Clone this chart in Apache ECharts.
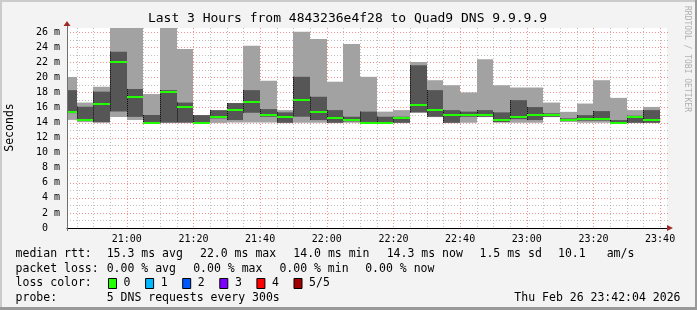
<!DOCTYPE html>
<html><head><meta charset="utf-8">
<script src="https://cdn.jsdelivr.net/npm/echarts@6/dist/echarts.min.js"></script>
<style>html,body{margin:0;padding:0;background:#f3f3f3}#c{width:697px;height:310px}</style>
</head><body><div id="c"></div>
<script>
// ---- data ----
const barStarts = ['20:40','20:45','20:50','20:55','21:00','21:05','21:10','21:15','21:20','21:25','21:30','21:35','21:40','21:45','21:50','21:55','22:00','22:05','22:10','22:15','22:20','22:25','22:30','22:35','22:40','22:45','22:50','22:55','23:00','23:05','23:10','23:15','23:20','23:25','23:30','23:35'];
const pingMin = [14.35,14.05,13.97,14.75,14.33,13.90,13.95,13.95,13.90,13.95, 14.00,14.00,14.00,13.93,13.97,13.97,13.93,13.97,13.90,13.90, 13.93,15.30,14.72,13.93,13.97,14.72,14.00,13.97,13.97,14.72, 14.10,13.97,13.97,13.90,13.93,13.93];
const ping2   = [15.25,14.20,14.05,15.45,14.75,13.95,14.00,14.00,13.95,14.55, 14.33,15.30,14.77,13.97,14.77,14.33,13.97,14.15,13.93,13.93, 13.97,15.35,14.77,13.97,14.77,14.77,14.05,14.45,14.33,14.77, 14.18,14.25,14.25,13.93,13.97,13.97];
const median  = [15.45,14.33,16.50,22.05,17.42,13.99,18.10,16.10,14.00,14.72, 15.65,16.75,14.98,14.72,16.97,15.45,14.63,14.33,13.97,13.99, 14.63,16.30,15.70,15.00,15.00,15.00,14.38,14.77,15.00,14.98, 14.30,14.50,14.47,13.97,14.75,14.38];
const ping4   = [18.30,16.10,18.10,23.40,18.45,15.00,18.30,16.65,14.98,15.63, 16.58,18.30,15.78,15.35,20.07,17.42,15.65,14.77,15.45,14.77, 14.77,21.60,18.30,15.65,15.45,15.65,15.35,16.97,16.05,15.22, 14.55,14.98,15.52,14.33,14.90,15.65];
const pingMax = [20.05,16.65,18.75,26.60,26.60,17.78,26.60,23.75,15.00,15.65, 16.60,24.20,19.55,15.65,26.05,25.10,19.42,24.42,20.07,15.45, 15.65,22.05,19.62,18.95,18.00,22.40,18.95,18.65,18.65,16.65, 15.42,16.52,19.62,17.27,15.65,16.07];
const xLabelTimes = ['21:00','21:20','21:40','22:00','22:20','22:40','23:00','23:20','23:40'];
const yTicks = [0,2,4,6,8,10,12,14,16,18,20,22,24,26];
const yMinor = [1,3,5,7,9,11,13,15,17,19,21,23,25];
const startTime = '20:42:04', endTime = '23:42:04';
const lossLabels = ['0','1','2','3','4','5/5'];
const lossColors = ['#22ff00','#00b8ff','#0059ff','#7e00ff','#ff0000','#a10000'];

// ---- helpers ----
const toSec = s => { const p = s.split(':').map(Number); return p[0]*3600 + p[1]*60 + (p[2]||0); };
const pad = n => String(n).padStart(2,'0');
const fmtT = v => pad(Math.floor(v/3600)) + ':' + pad(Math.floor((v%3600)/60));
const STEP = 300;
const xMin = toSec(startTime), xMax = toSec(endTime);
const majorX = xLabelTimes.map(toSec);
const minorX = barStarts.slice(1).map(toSec).concat([toSec('23:40')]).filter(v => majorX.indexOf(v) < 0);
const MONO = '"DejaVu Sans Mono", monospace';

const gridData = [];
minorX.forEach(v => gridData.push([0, v]));
yMinor.forEach(v => gridData.push([1, v]));
majorX.forEach(v => gridData.push([2, v]));
yTicks.filter(v => v > 0).forEach(v => gridData.push([3, v]));

const barData = barStarts.map((t,i) => [toSec(t), pingMin[i], ping2[i], median[i], ping4[i], pingMax[i], i]);

const chart = echarts.init(document.getElementById('c'), null, {renderer:'canvas'});

const legendTexts = [];
function T(text, x, y, extra) {
  legendTexts.push({type:'text', x:x, y:y, z:100, style:Object.assign({text:text, font:'11.5px ' + MONO, fill:'#000', textVerticalAlign:'middle'}, extra||{})});
}
const r1 = 254.5, r2 = 269, r3 = 283.5, r4 = 298;
T('median rtt:', 15.6, r1);
T('15.3 ms avg', 106.7, r1); T('22.0 ms max', 200, r1); T('14.0 ms min', 293.3, r1);
T('14.3 ms now', 386.7, r1); T('1.5 ms sd', 479.5, r1); T('10.1', 558, r1); T('am/s', 606.7, r1);
T('packet loss:', 15.6, r2);
T('0.00 % avg', 106.7, r2); T('0.00 % max', 193.2, r2); T('0.00 % min', 279.4, r2); T('0.00 % now', 365.2, r2);
T('loss color:', 15.6, r3);
lossLabels.forEach((l,i) => {
  const bx = 108 + i*37.1;
  legendTexts.push({type:'rect', z:100, shape:{x:bx+0.5, y:r3-5, width:8, height:10}, style:{fill:lossColors[i], stroke:'#000', lineWidth:1}});
  T(l, bx + 15.6, r3);
});
T('probe:', 15.6, r4);
T('5 DNS requests every 300s', 106.7, r4);
T('Thu Feb 26 23:42:04 2026', 680.5, r4, {textAlign:'right'});

const option = {
  backgroundColor:'#f3f3f3',
  animation:false,
  grid:{left:67, top:28, width:600, height:200, show:true, backgroundColor:'#ffffff', borderWidth:0, containLabel:false},
  xAxis:{type:'value', min:xMin, max:xMax,
    axisLine:{show:true, lineStyle:{color:'#000', width:1}},
    axisTick:{show:false}, splitLine:{show:false},
    axisLabel:{customValues: majorX, formatter: v => fmtT(v), fontFamily:MONO, fontSize:10, color:'#000', margin:6}},
  yAxis:{type:'value', min:0, max:26.55,
    axisLine:{show:true, lineStyle:{color:'#707070', width:1}},
    axisTick:{show:false}, splitLine:{show:false},
    axisLabel:{customValues: yTicks, formatter: v => v === 0 ? '0  ' : v + ' m', fontFamily:MONO, fontSize:10, color:'#000', margin:7}},
  series:[
    {type:'custom', z:1, silent:true, clip:false, data:gridData, encode:{x:1},
     renderItem(params, api){
       const kind = api.value(0), v = api.value(1);
       const cs = params.coordSys;
       const major = kind >= 2;
       const color = major ? 'rgba(240,110,110,0.75)' : 'rgba(150,150,150,0.6)';
       let shape;
       if (kind === 0 || kind === 2) {
         const x = Math.round(api.coord([v, 0])[0]) + 0.5;
         shape = {x1:x, y1:cs.y, x2:x, y2:cs.y + cs.height};
       } else {
         const y = Math.round(api.coord([xMin, v])[1]) + 0.5;
         shape = {x1:cs.x, y1:y, x2:cs.x + cs.width + 1, y2:y};
       }
       return {type:'line', shape:shape, style:{stroke:color, lineWidth:1, lineDash:[1,2]}};
     }},
    {type:'custom', z:2, silent:true, clip:true, data:barData, encode:{x:0, y:[1,5]},
     renderItem(params, api){
       const t = api.value(0);
       const x0 = Math.round(api.coord([t, 0])[0]);
       const x1 = Math.round(api.coord([t + STEP, 0])[0]);
       const yp = k => api.coord([t, api.value(k)])[1];
       const w = x1 - x0;
       const children = [
         {type:'rect', shape:{x:x0, y:yp(5), width:w, height:yp(1)-yp(5)}, style:{fill:'#a2a2a2'}},
         {type:'rect', shape:{x:x0, y:yp(4), width:w, height:yp(2)-yp(4)}, style:{fill:'#565656'}}
       ];
       if (api.value(6) > 0) {
         children.push({type:'line', shape:{x1:x0+0.5, y1:yp(4), x2:x0+0.5, y2:yp(2)}, style:{stroke:'rgba(0,0,0,0.85)', lineWidth:1, lineDash:[1,1]}});
       }
       children.push({type:'rect', shape:{x:x0, y:Math.round(yp(3))-1, width:w, height:2}, style:{fill:lossColors[0]}});
       return {type:'group', children:children};
     }}
  ],
  graphic:[
    {type:'rect', z:90, shape:{x:0, y:0, width:697, height:2}, style:{fill:'#cbcbcb'}},
    {type:'rect', z:90, shape:{x:0, y:0, width:2, height:310}, style:{fill:'#cbcbcb'}},
    {type:'rect', z:91, shape:{x:695, y:0, width:2, height:310}, style:{fill:'#999999'}},
    {type:'rect', z:91, shape:{x:0, y:307, width:697, height:3}, style:{fill:'#999999'}},
    {type:'text', z:100, x:347.5, y:19, style:{text:'Last 3 Hours from 4843236e4f28 to Quad9 DNS 9.9.9.9', font:'13px ' + MONO, fill:'#000', textAlign:'center', textVerticalAlign:'middle'}},
    {type:'text', z:100, x:10, y:127.5, rotation:Math.PI/2, style:{text:'Seconds', font:'11.5px ' + MONO, fill:'#000', textAlign:'center', textVerticalAlign:'middle'}},
    {type:'text', z:100, x:687, y:59, rotation:-Math.PI/2, style:{text:'RRDTOOL / TOBI OETIKER', font:'8px ' + MONO, fill:'#b0b0b0', textAlign:'center', textVerticalAlign:'middle'}},
    {type:'polygon', z:100, shape:{points:[[667,225],[673,228],[667,231]]}, style:{fill:'#a02a2a'}},
    {type:'polygon', z:100, shape:{points:[[63.5,26],[67,21],[70.5,26]]}, style:{fill:'#a02a2a'}},
    {type:'line', z:95, shape:{x1:67.5, y1:26, x2:67.5, y2:231}, style:{stroke:'#707070', lineWidth:1}}
  ].concat(legendTexts)
};
chart.setOption(option);
</script></body></html>
